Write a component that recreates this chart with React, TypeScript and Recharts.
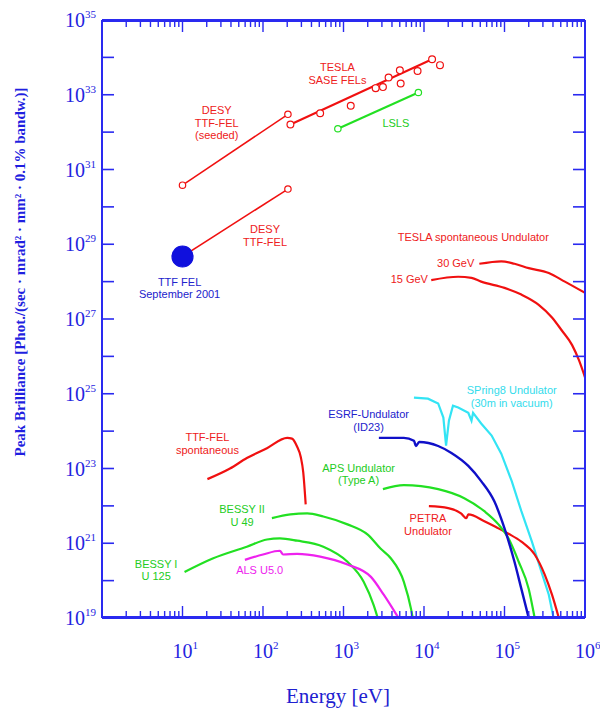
import React from 'react';
import { ComposedChart, Line, Scatter, XAxis, YAxis, ReferenceDot } from 'recharts';

// ---------- data (energy in eV, peak brilliance) ----------
const seededFel = [{ x: 10, y: 3.8e30 }, { x: 204, y: 3.0e32 }];
const desyTtfFel = [{ x: 10, y: 4.7e28 }, { x: 204, y: 3.0e30 }];
const ttfFel2001 = [{ x: 10, y: 4.7e28 }];
const teslaSaseLine = [{ x: 219, y: 1.6e32 }, { x: 12600, y: 8.9e33 }];
const teslaSasePoints = [
  { x: 219, y: 1.6e32 }, { x: 513, y: 3.2e32 }, { x: 1230, y: 5.1e32 },
  { x: 2510, y: 1.5e33 }, { x: 3090, y: 1.6e33 }, { x: 3630, y: 2.9e33 },
  { x: 5010, y: 4.5e33 }, { x: 5130, y: 2.0e33 }, { x: 8320, y: 4.3e33 },
  { x: 12600, y: 8.9e33 }, { x: 15800, y: 6.2e33 },
];
const seededPoints = [{ x: 10, y: 3.8e30 }, { x: 204, y: 3.0e32 }, { x: 204, y: 3.0e30 }];
const lsls = [{ x: 851, y: 1.23e32 }, { x: 8510, y: 1.15e33 }];

const tesla30GeV = [
  { x: 48700, y: 3.0e28 }, { x: 91200, y: 3.5e28 }, { x: 133000, y: 3.0e28 },
  { x: 200000, y: 2.3e28 }, { x: 355000, y: 1.7e28 }, { x: 562000, y: 1.0e28 },
  { x: 1000000, y: 5.0e27 },
];
const tesla15GeV = [
  { x: 12300, y: 1.1e28 }, { x: 26600, y: 1.35e28 }, { x: 38900, y: 1.26e28 },
  { x: 51300, y: 1.0e28 }, { x: 100000, y: 6.8e27 }, { x: 162000, y: 4.5e27 },
  { x: 266000, y: 2.4e27 }, { x: 389000, y: 1.1e27 }, { x: 513000, y: 5.0e26 },
  { x: 692000, y: 2.0e26 }, { x: 841000, y: 7.9e25 }, { x: 1000000, y: 2.75e25 },
];
const ttfSpontaneous = [
  { x: 20.4, y: 5.2e22 }, { x: 38.9, y: 1.0e23 }, { x: 63, y: 1.9e23 },
  { x: 112, y: 3.5e23 }, { x: 200, y: 6.6e23 }, { x: 229, y: 6.3e23 },
  { x: 263, y: 4.0e23 }, { x: 295, y: 2.0e23 }, { x: 316, y: 8.0e22 },
  { x: 339, y: 1.1e22 },
];
const bessyII = [
  { x: 129, y: 4.7e21 }, { x: 219, y: 5.9e21 }, { x: 355, y: 6.3e21 },
  { x: 562, y: 5.2e21 }, { x: 1120, y: 3.2e21 }, { x: 2000, y: 1.7e21 },
  { x: 2880, y: 7.2e20 }, { x: 3890, y: 3.9e20 }, { x: 5620, y: 9.3e19 },
  { x: 6920, y: 1.7e19 }, { x: 7240, y: 1.0e19 },
];
const bessyI = [
  { x: 10.6, y: 1.7e20 }, { x: 23.7, y: 3.9e20 }, { x: 63, y: 8.1e20 },
  { x: 112, y: 1.26e21 }, { x: 162, y: 1.35e21 }, { x: 266, y: 1.17e21 },
  { x: 562, y: 8.1e20 }, { x: 1120, y: 3.2e20 }, { x: 1780, y: 9.3e19 },
  { x: 2370, y: 2.2e19 }, { x: 2660, y: 1.0e19 },
];
const alsU5 = [
  { x: 59.6, y: 3.6e20 }, { x: 100, y: 5.0e20 }, { x: 162, y: 6.3e20 },
  { x: 178, y: 5.0e20 }, { x: 266, y: 5.2e20 }, { x: 513, y: 4.4e20 },
  { x: 1120, y: 2.7e20 }, { x: 2190, y: 1.26e20 }, { x: 3160, y: 4.2e19 },
  { x: 4730, y: 1.07e19 },
];
const apsTypeA = [
  { x: 3090, y: 2.8e22 }, { x: 5620, y: 3.6e22 }, { x: 15000, y: 2.8e22 },
  { x: 31600, y: 1.6e22 }, { x: 56200, y: 7.2e21 }, { x: 84100, y: 3.2e21 },
  { x: 112000, y: 1.35e21 }, { x: 150000, y: 3.2e20 }, { x: 200000, y: 6.0e19 },
  { x: 237000, y: 1.0e19 },
];
const esrfId23 = [
  { x: 2750, y: 6.6e23 }, { x: 5620, y: 6.6e23 }, { x: 7500, y: 5.5e23 },
  { x: 7940, y: 4.0e23 }, { x: 8710, y: 5.1e23 }, { x: 15000, y: 4.0e23 },
  { x: 21900, y: 2.6e23 }, { x: 35500, y: 1.17e23 }, { x: 51300, y: 4.6e22 },
  { x: 75000, y: 1.3e22 }, { x: 100000, y: 2.5e21 }, { x: 133000, y: 3.2e20 },
  { x: 162000, y: 6.0e19 }, { x: 200000, y: 1.0e19 },
];
const spring8 = [
  { x: 7500, y: 7.9e24 }, { x: 11200, y: 7.4e24 }, { x: 15000, y: 5.5e24 },
  { x: 17400, y: 2.3e24 }, { x: 18800, y: 4.1e23 }, { x: 20400, y: 1.9e24 },
  { x: 22900, y: 4.8e24 }, { x: 26600, y: 4.3e24 }, { x: 35500, y: 3.1e24 },
  { x: 38900, y: 1.9e24 }, { x: 40700, y: 3.1e24 }, { x: 51300, y: 1.6e24 },
  { x: 69200, y: 7.6e23 }, { x: 91200, y: 2.5e23 }, { x: 123000, y: 4.6e22 },
  { x: 162000, y: 7.2e21 }, { x: 219000, y: 1.1e21 }, { x: 288000, y: 1.7e20 },
  { x: 355000, y: 4.2e19 }, { x: 407000, y: 1.0e19 },
];
const petra = [
  { x: 11500, y: 9.8e21 }, { x: 20000, y: 8.7e21 }, { x: 28800, y: 6.3e21 },
  { x: 33500, y: 4.7e21 }, { x: 35500, y: 5.9e21 }, { x: 56200, y: 3.9e21 },
  { x: 84100, y: 2.5e21 }, { x: 112000, y: 1.8e21 }, { x: 162000, y: 1.1e21 },
  { x: 237000, y: 5.0e20 }, { x: 316000, y: 1.45e20 }, { x: 389000, y: 4.2e19 },
  { x: 473000, y: 1.0e19 },
];

// ---------- axes ----------
const xDecades = [1, 10, 100, 1000, 10000, 100000, 1000000];
const xMinorMultipliers = [2, 3, 4, 5, 6, 7, 8, 9];
const yDecades = [
  1e19, 1e20, 1e21, 1e22, 1e23, 1e24, 1e25, 1e26, 1e27,
  1e28, 1e29, 1e30, 1e31, 1e32, 1e33, 1e34, 1e35,
];
const xMinorTicks: number[] = [];
xDecades.slice(0, -1).forEach((d) => xMinorMultipliers.forEach((m) => xMinorTicks.push(m * d)));

// ---------- annotations ----------
type Note = { x: number; y: number; lines: string[]; color: string; anchor?: 'middle' | 'end' };
const notes: Note[] = [
  { x: 26.6, y: 1.8e32, lines: ['DESY', 'TTF-FEL', '(seeded)'], color: '#ee2020' },
  { x: 106, y: 1.7e29, lines: ['DESY', 'TTF-FEL'], color: '#ee2020' },
  { x: 9.2, y: 6.8e27, lines: ['TTF FEL', 'September 2001'], color: '#2222cc' },
  { x: 841, y: 3.7e33, lines: ['TESLA', 'SASE FELs'], color: '#ee2020' },
  { x: 4470, y: 1.8e32, lines: ['LSLS'], color: '#22cc22' },
  { x: 41000, y: 1.6e29, lines: ['TESLA spontaneous Undulator'], color: '#ee2020' },
  { x: 42200, y: 3.2e28, lines: ['30 GeV'], color: '#ee2020', anchor: 'end' },
  { x: 11200, y: 1.2e28, lines: ['15 GeV'], color: '#ee2020', anchor: 'end' },
  { x: 123000, y: 8.5e24, lines: ['SPring8 Undulator', '(30m in vacuum)'], color: '#33dcec' },
  { x: 2050, y: 1.9e24, lines: ['ESRF-Undulator', '(ID23)'], color: '#2222cc' },
  { x: 1540, y: 7.1e22, lines: ['APS Undulator', '(Type A)'], color: '#22cc22' },
  { x: 11200, y: 3.2e21, lines: ['PETRA', 'Undulator'], color: '#ee2020' },
  { x: 20.4, y: 4.6e23, lines: ['TTF-FEL', 'spontaneous'], color: '#ee2020' },
  { x: 55, y: 5.6e21, lines: ['BESSY II', 'U 49'], color: '#22cc22' },
  { x: 4.7, y: 1.9e20, lines: ['BESSY I', 'U 125'], color: '#22cc22' },
  { x: 91, y: 1.9e20, lines: ['ALS U5.0'], color: '#ee22ee' },
];

const AXIS = '#2a2af0';
const TICK_TEXT = '#2424e0';
const SERIF = '"Liberation Serif", "DejaVu Serif", serif';
const SANS = '"Liberation Sans", Arial, sans-serif';
const RED = '#f01010';
const GREEN = '#22e022';

// bottom major axis is mirrored with tickSize 12: label anchor y = axisY - 12
const BottomLabel = (p: any) => {
  const { x, y, payload } = p;
  const exp = Math.round(Math.log10(payload.value));
  const axisY = y + 12;
  if (exp < 1) return <g />;
  return (
    <text x={x - 10} y={axisY + 40} fill={TICK_TEXT} fontFamily={SERIF} fontSize={20}>
      10<tspan dy={-9} fontSize={11}>{exp}</tspan>
    </text>
  );
};
// left axis is mirrored with tickSize 12: label anchor x = axisX + 12
const LeftLabel = (p: any) => {
  const { x, y, payload } = p;
  const exp = Math.round(Math.log10(payload.value));
  const axisX = x - 12;
  if (exp % 2 !== 1) return <g />;
  return (
    <text x={axisX - 6} y={y + 7} textAnchor="end" fill={TICK_TEXT} fontFamily={SERIF} fontSize={20}>
      10<tspan dy={-9} fontSize={11}>{exp}</tspan>
    </text>
  );
};
const EmptyTick = () => <g />;

const NoteShape = (note: Note) => (p: any) => {
  const { cx, cy } = p;
  const lh = 12.5;
  const n = note.lines.length;
  return (
    <text textAnchor={note.anchor || 'middle'} fill={note.color} fontFamily={SANS} fontSize={11}>
      {note.lines.map((l, i) => (
        <tspan key={i} x={cx} y={cy + (i - (n - 1) / 2) * lh + 4}>
          {l}
        </tspan>
      ))}
    </text>
  );
};

const circle = (r: number, fill: string, stroke: string) => (p: any) => (
  <circle cx={p.cx} cy={p.cy} r={r} fill={fill} stroke={stroke} strokeWidth={1.2} />
);

const axisLine = { stroke: AXIS, strokeWidth: 2 };
const tickLine = { stroke: AXIS, strokeWidth: 1.4 };

const xCommon = {
  dataKey: 'x',
  type: 'number' as const,
  scale: 'log' as const,
  domain: [1, 1000000],
  allowDataOverflow: true,
  interval: 0 as const,
  height: 1,
  mirror: true,
  tickMargin: 0,
  tickLine,
  axisLine,
};
const yCommon = {
  type: 'number' as const,
  scale: 'log' as const,
  domain: [1e19, 1e35],
  allowDataOverflow: true,
  ticks: yDecades,
  interval: 0 as const,
  width: 1,
  mirror: true,
  tickSize: 12,
  tickMargin: 0,
  tickLine: { stroke: AXIS, strokeWidth: 1.6 },
  axisLine,
};

export default function App() {
  return (
    <div style={{ position: 'fixed', left: 0, top: 0, width: 600, height: 711, background: '#fff' }}>
      <ComposedChart width={600} height={711} margin={{ top: 20, left: 102, right: 15, bottom: 93 }}>
        <XAxis {...xCommon} ticks={xDecades} tickSize={12} tick={BottomLabel} />
        <XAxis {...xCommon} xAxisId="bminor" ticks={xMinorTicks} tickSize={6} tick={EmptyTick} />
        <XAxis {...xCommon} xAxisId="tmajor" orientation="top" ticks={xDecades} tickSize={12} tick={EmptyTick} />
        <XAxis {...xCommon} xAxisId="tminor" orientation="top" ticks={xMinorTicks} tickSize={6} tick={EmptyTick} />
        <YAxis {...yCommon} tick={LeftLabel} />
        <YAxis {...yCommon} yAxisId="right" orientation="right" tick={EmptyTick} />

        <Line data={seededFel} dataKey="y" stroke={RED} strokeWidth={1.5} dot={false} isAnimationActive={false} />
        <Line data={desyTtfFel} dataKey="y" stroke={RED} strokeWidth={1.5} dot={false} isAnimationActive={false} />
        <Line data={teslaSaseLine} dataKey="y" stroke={RED} strokeWidth={2} dot={false} isAnimationActive={false} />
        <Line data={lsls} dataKey="y" stroke={GREEN} strokeWidth={2} dot={circle(3.2, '#fff', GREEN)} isAnimationActive={false} />
        <Line type="monotone" data={tesla30GeV} dataKey="y" stroke={RED} strokeWidth={2.2} dot={false} isAnimationActive={false} />
        <Line type="monotone" data={tesla15GeV} dataKey="y" stroke={RED} strokeWidth={2.2} dot={false} isAnimationActive={false} />
        <Line type="monotone" data={ttfSpontaneous} dataKey="y" stroke={RED} strokeWidth={2.2} dot={false} isAnimationActive={false} />
        <Line type="monotone" data={bessyII} dataKey="y" stroke={GREEN} strokeWidth={2.2} dot={false} isAnimationActive={false} />
        <Line type="monotone" data={bessyI} dataKey="y" stroke={GREEN} strokeWidth={2.2} dot={false} isAnimationActive={false} />
        <Line type="monotone" data={alsU5} dataKey="y" stroke="#ee22ee" strokeWidth={2.2} dot={false} isAnimationActive={false} />
        <Line data={spring8} dataKey="y" stroke="#33e4f4" strokeWidth={2.2} dot={false} isAnimationActive={false} />
        <Line type="monotone" data={petra} dataKey="y" stroke={RED} strokeWidth={2.2} dot={false} isAnimationActive={false} />
        <Line type="monotone" data={apsTypeA} dataKey="y" stroke={GREEN} strokeWidth={2.2} dot={false} isAnimationActive={false} />
        <Line type="monotone" data={esrfId23} dataKey="y" stroke="#1010c8" strokeWidth={2.4} dot={false} isAnimationActive={false} />

        <Scatter data={seededPoints} dataKey="y" shape={circle(3.2, '#fff', RED)} isAnimationActive={false} />
        <Scatter data={teslaSasePoints} dataKey="y" shape={circle(3.4, '#fff', RED)} isAnimationActive={false} />
        <Scatter data={ttfFel2001} dataKey="y" shape={circle(10.5, '#1010dd', '#1010dd')} isAnimationActive={false} />

        {notes.map((n, i) => (
          <ReferenceDot key={i} x={n.x} y={n.y} r={0} shape={NoteShape(n)} />
        ))}
      </ComposedChart>
      <svg width={600} height={711} style={{ position: 'absolute', left: 0, top: 0, pointerEvents: 'none' }}>
        <text
          transform="translate(25,272) rotate(-90)"
          textAnchor="middle"
          fill="#1f1fe0"
          fontFamily={SERIF}
          fontWeight="bold"
          fontSize={15}
        >
          Peak Brilliance [Phot./(sec · mrad² · mm² · 0.1% bandw.)]
        </text>
        <text x={338} y={703} textAnchor="middle" fill="#2020d0" fontFamily={SERIF} fontSize={21}>
          Energy [eV]
        </text>
      </svg>
    </div>
  );
}
